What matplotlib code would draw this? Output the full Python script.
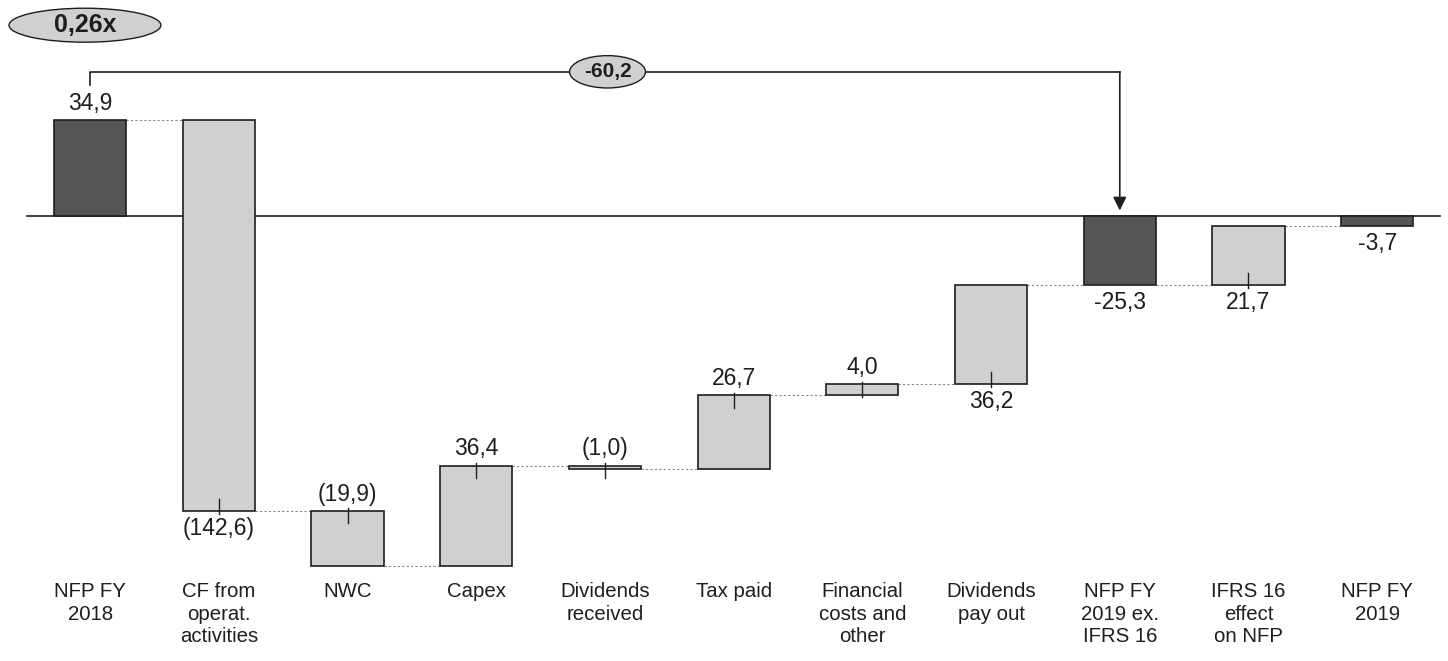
import matplotlib.pyplot as plt
from matplotlib.patches import Ellipse

plt.rcParams['font.family'] = ['Liberation Sans', 'DejaVu Sans']

categories = ["NFP FY\n2018", "CF from\noperat.\nactivities", "NWC", "Capex",
              "Dividends\nreceived", "Tax paid", "Financial\ncosts and\nother",
              "Dividends\npay out", "NFP FY\n2019 ex.\nIFRS 16", "IFRS 16\neffect\non NFP",
              "NFP FY\n2019"]
# change applied by each step (totals are None -> bar from zero)
deltas = [34.9, -142.6, -19.9, 36.4, -1.0, 26.7, 4.0, 36.2, None, 21.7, None]
totals = [34.9, None, None, None, None, None, None, None, -25.3, None, -3.7]
labels = ["34,9", "(142,6)", "(19,9)", "36,4", "(1,0)", "26,7", "4,0", "36,2",
          "-25,3", "21,7", "-3,7"]
label_side = ["top", "bottom", "top", "top", "top", "top", "top", "bottom",
              "bottom", "bottom", "bottom"]
bridge_label = "-60,2"
ratio_label = "0,26x"

dark = "#555555"
light = "#d0d0d0"
ink = "#1e1e1e"

fig = plt.figure(figsize=(14.48, 6.61), dpi=100)
ax = fig.add_axes([0, 0, 1, 1])
ax.set_xlim(-0.70, 10.55)
ax.set_ylim(-162.4, 78.8)
ax.axis('off')

w = 0.56
level = 0.0
bottoms, tops, run = [], [], []
for i in range(len(categories)):
    if totals[i] is not None:
        lo, hi = min(0, totals[i]), max(0, totals[i])
        color = dark
        level = totals[i]
    else:
        new = level + deltas[i]
        lo, hi = min(level, new), max(level, new)
        color = light
        level = new
    bottoms.append(lo)
    tops.append(hi)
    run.append(level)
    ax.bar(i, hi - lo, bottom=lo, width=w, color=color, edgecolor=ink,
           linewidth=1.2, zorder=3)

# dotted connectors
for i in range(len(categories) - 1):
    ax.plot([i + w / 2, i + 1 - w / 2], [run[i], run[i]], color="#888888",
            linestyle=(0, (2, 2)), linewidth=0.8, zorder=2)

# baseline (behind bars)
ax.plot([-0.49, 10.49], [0, 0], color=ink, linewidth=1.2, zorder=2.5)

# value labels with small ticks
for i in range(len(categories)):
    is_total = totals[i] is not None
    if label_side[i] == "top":
        y = tops[i]
        ax.text(i, y + 2.0, labels[i], ha='center', va='bottom', fontsize=16.5,
                color=ink, zorder=5)
        if not is_total:
            ax.plot([i, i], [y - 4.4, y + 1.0], color=ink, linewidth=1, zorder=5)
    else:
        y = bottoms[i]
        ax.text(i, y - 2.0, labels[i], ha='center', va='top', fontsize=16.5,
                color=ink, zorder=5)
        if not is_total:
            ax.plot([i, i], [y - 1.0, y + 4.4], color=ink, linewidth=1, zorder=5)

# category labels
for i, c in enumerate(categories):
    ax.text(i, -133.5, c, ha='center', va='top', fontsize=14.7, color=ink,
            linespacing=1.25)

# bridge arrow from first to ex-IFRS total
ytop = 52.6
ax.plot([0, 0, 8], [47.8, ytop, ytop], color=ink, linewidth=1.2, zorder=4)
ax.annotate("", xy=(8, 2.0), xytext=(8, ytop),
            arrowprops=dict(arrowstyle="-|>", color=ink, lw=1.2,
                            mutation_scale=20, shrinkA=0, shrinkB=0), zorder=4)
ax.add_patch(Ellipse((4.02, ytop), 0.59, 11.8, facecolor=light, edgecolor=ink,
                     linewidth=1.0, zorder=5))
ax.text(4.02, ytop, bridge_label, ha='center', va='center', fontsize=15,
        fontweight='bold', color=ink, zorder=6)

ax.add_patch(Ellipse((-0.04, 69.6), 1.18, 12.4, facecolor=light, edgecolor=ink,
                     linewidth=1.0, zorder=5))
ax.text(-0.04, 69.6, ratio_label, ha='center', va='center', fontsize=18,
        fontweight='bold', color=ink, zorder=6)

fig.savefig("out.png", dpi=100)
